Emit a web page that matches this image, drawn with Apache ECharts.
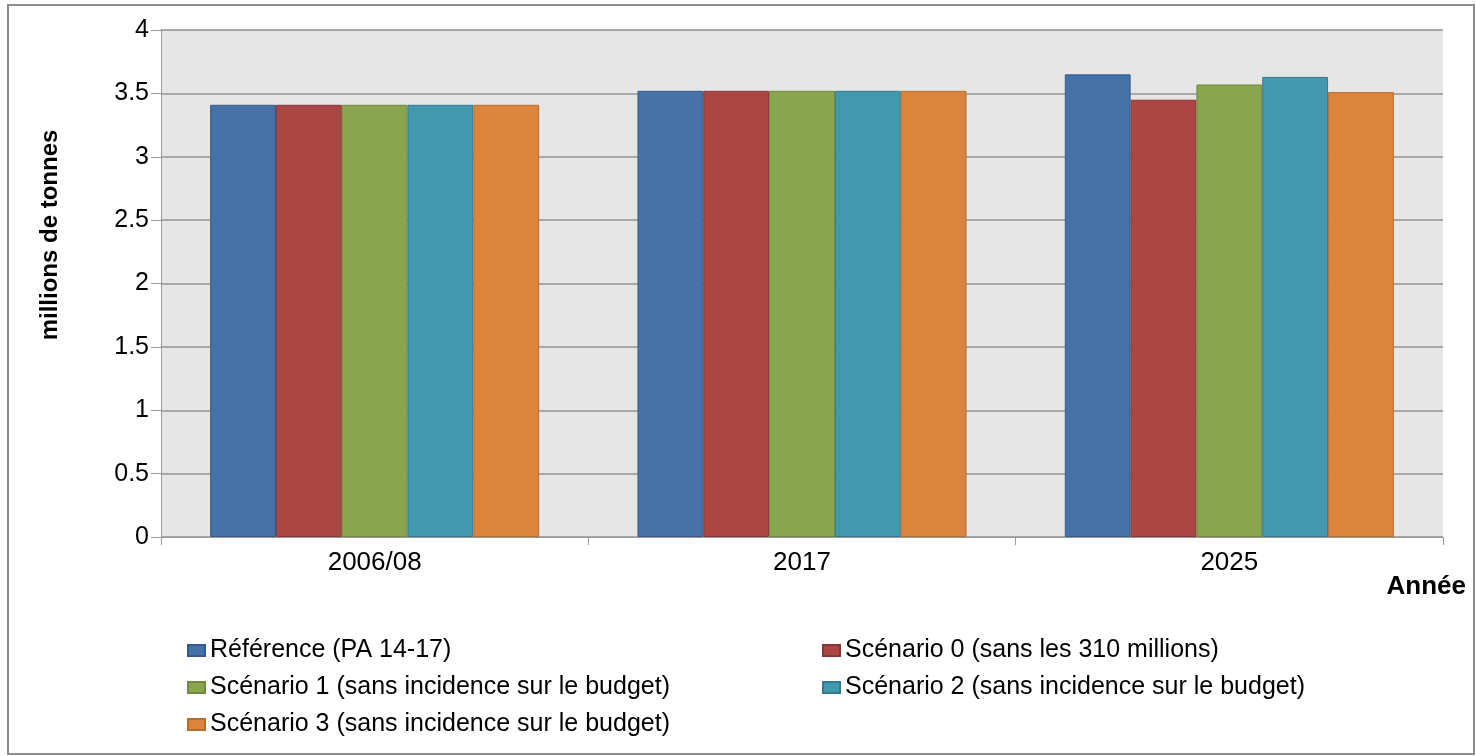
<!DOCTYPE html>
<html>
<head>
<meta charset="utf-8">
<script src="https://cdn.jsdelivr.net/npm/echarts@6/dist/echarts.min.js"></script>
<style>
  html, body { margin: 0; padding: 0; background: #fff; }
  #chart { width: 1476px; height: 756px; }
</style>
</head>
<body>
<div id="chart"></div>
<script>
// categories on the x axis
var annees = ['2006/08', '2017', '2025'];

// values in millions de tonnes
var reference = [3.41, 3.52, 3.65];
var scenario0 = [3.41, 3.52, 3.45];
var scenario1 = [3.41, 3.52, 3.57];
var scenario2 = [3.41, 3.52, 3.63];
var scenario3 = [3.41, 3.52, 3.51];

var noms = [
  'Référence (PA 14-17)',
  'Scénario 0 (sans les 310 millions)',
  'Scénario 1 (sans incidence sur le budget)',
  'Scénario 2 (sans incidence sur le budget)',
  'Scénario 3 (sans incidence sur le budget)'
];

var couleurs = ['#4572a7', '#aa4643', '#89a54e', '#4198af', '#db843d'];
var bords = ['#37598a', '#8a3533', '#6f8a3e', '#33798d', '#b86d30'];

var font = '"Liberation Sans", Arial, sans-serif';

function serie(i, data) {
  return {
    name: noms[i],
    type: 'bar',
    data: data,
    barGap: '0%',
    barCategoryGap: '23%',
    itemStyle: { color: couleurs[i], borderColor: bords[i], borderWidth: 1 }
  };
}

// legend column, items stacked like the original two-column layout
function legende(left, items) {
  return {
    orient: 'vertical', left: left, top: 638, padding: 0, itemGap: 12,
    itemWidth: 17, itemHeight: 11, icon: 'rect',
    textStyle: { fontSize: 25, lineHeight: 25, color: '#000', fontFamily: font },
    data: items
  };
}

var myChart = echarts.init(document.getElementById('chart'));

myChart.setOption({
  animation: false,
  backgroundColor: '#ffffff',
  textStyle: { fontFamily: font },
  grid: {
    left: 161, right: 33, top: 30, bottom: 219,
    show: true, backgroundColor: '#e6e6e6', borderWidth: 0
  },
  legend: [
    legende(187, [noms[0], noms[2], noms[4]]),
    legende(822, [noms[1], noms[3]])
  ],
  xAxis: {
    type: 'category',
    data: annees,
    axisLine: { lineStyle: { color: '#9a9a9a', width: 1 } },
    axisTick: { show: true, length: 8, lineStyle: { color: '#9a9a9a' } },
    axisLabel: { fontSize: 26, color: '#000', margin: 13 }
  },
  yAxis: {
    type: 'value',
    min: 0,
    max: 4,
    interval: 0.5,
    axisLine: { show: true, lineStyle: { color: '#9a9a9a', width: 1 } },
    axisTick: { show: true, length: 10, lineStyle: { color: '#9a9a9a' } },
    axisLabel: { fontSize: 25, color: '#000', margin: 12 },
    splitLine: { lineStyle: { color: '#a8a8a8', width: 2 } }
  },
  graphic: [
    {
      type: 'rect',
      shape: { x: 8, y: 5, width: 1466, height: 749 },
      style: { fill: 'none', stroke: '#8c8c8c', lineWidth: 2 },
      z: 100
    },
    {
      type: 'text',
      x: 50, y: 235,
      rotation: Math.PI / 2,
      style: {
        text: 'millions de tonnes',
        font: 'bold 24px ' + font,
        fill: '#000',
        textAlign: 'center',
        textVerticalAlign: 'middle'
      }
    },
    {
      type: 'text',
      x: 1466, y: 587,
      style: {
        text: 'Année',
        font: 'bold 26px ' + font,
        fill: '#000',
        textAlign: 'right',
        textVerticalAlign: 'middle'
      }
    }
  ],
  series: [
    serie(0, reference),
    serie(1, scenario0),
    serie(2, scenario1),
    serie(3, scenario2),
    serie(4, scenario3)
  ]
});
</script>
</body>
</html>
